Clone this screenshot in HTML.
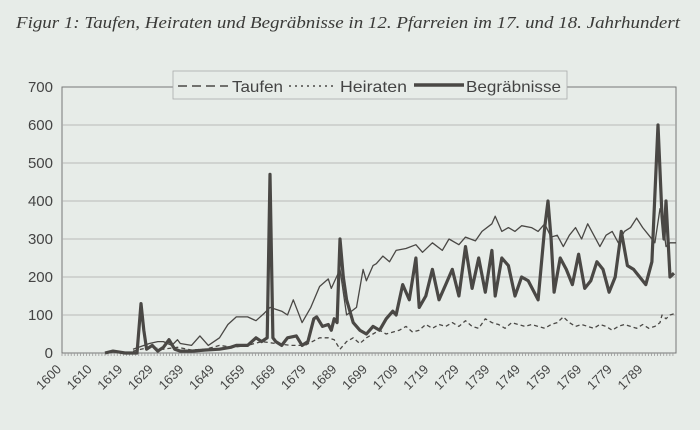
<!DOCTYPE html>
<html><head><meta charset="utf-8"><style>
html,body{margin:0;padding:0;background:#e7ece8;}
body{width:700px;height:430px;overflow:hidden;position:relative;}
</style></head><body>
<svg id="s" width="700" height="430" xmlns="http://www.w3.org/2000/svg" style="position:absolute;left:0;top:0">
<text x="16" y="28" font-family="Liberation Serif,serif" font-style="italic" font-size="17.3" fill="#3a3a38" textLength="664" lengthAdjust="spacingAndGlyphs">Figur 1: Taufen, Heiraten und Begräbnisse in 12. Pfarreien im 17. und 18. Jahrhundert</text>
<rect x="62" y="87" width="614" height="266" fill="none" stroke="#777" stroke-width="1"/>
<g id="grid" stroke="#aaa" stroke-width="0.8"></g>
<g id="ylab" font-family="Liberation Sans,sans-serif" font-size="15" fill="#444" text-anchor="end"></g>
<g id="xlab" font-family="Liberation Sans,sans-serif" font-size="13" fill="#444" text-anchor="end"></g>
<g id="lines" fill="none" stroke="#4a4845" stroke-linejoin="round"></g>
<rect x="173" y="71" width="394" height="28" fill="#e7ece8" stroke="#aaa" stroke-width="0.8"/>
<line x1="178" y1="86" x2="228" y2="86" stroke="#4a4845" stroke-width="1.5" stroke-dasharray="9,5"/>
<text x="232" y="92" font-family="Liberation Sans,sans-serif" font-size="16" fill="#444" textLength="51" lengthAdjust="spacingAndGlyphs">Taufen</text>
<line x1="289" y1="86" x2="334" y2="86" stroke="#4a4845" stroke-width="1.5" stroke-dasharray="2,4"/>
<text x="340" y="92" font-family="Liberation Sans,sans-serif" font-size="16" fill="#444" textLength="67" lengthAdjust="spacingAndGlyphs">Heiraten</text>
<line x1="414" y1="85" x2="464" y2="85" stroke="#4a4845" stroke-width="3.5"/>
<text x="466" y="92" font-family="Liberation Sans,sans-serif" font-size="16" fill="#444" textLength="95" lengthAdjust="spacingAndGlyphs">Begräbnisse</text>
</svg>
<script>
var NS="http://www.w3.org/2000/svg";
function el(p,t,a,txt){var e=document.createElementNS(NS,t);for(var k in a)e.setAttribute(k,a[k]);if(txt)e.textContent=txt;document.getElementById(p).appendChild(e);}
var A=[[1600,62],[1613,105],[1622,141],[1668,270],[1692,340],[1755,548],[1791,658],[1800,676]];
function X(y){for(var i=1;i<A.length;i++){if(y<=A[i][0]||i==A.length-1){var a=A[i-1],b=A[i];return a[1]+(y-a[0])*(b[1]-a[1])/(b[0]-a[0]);}}}
function Y(v){return 353-v*0.38;}
for(var v=0;v<=700;v+=100){if(v>0&&v<700)el("grid","line",{x1:62,x2:676,y1:Y(v),y2:Y(v)});el("ylab","text",{x:53,y:Y(v)+5},""+v);}
var yrs=[1600,1610,1619,1629,1639,1649,1659,1669,1679,1689,1699,1709,1719,1729,1739,1749,1759,1769,1779,1789];
yrs.forEach(function(y,i){var x=62+i*30.6;el("xlab","text",{x:x,y:370,transform:"rotate(-45 "+x+" 370)"},""+y);});
for(var x=62;x<=676;x+=3.07)el("grid","line",{x1:x,x2:x,y1:353,y2:356,stroke:"#999"});
function path(pts,a){var d="";for(var i=0;i<pts.length;i+=2)d+=(i?"L":"M")+X(pts[i]).toFixed(1)+" "+Y(pts[i+1]).toFixed(1);a.d=d;el("lines","path",a);}
var T=[1620,10,1625,25,1628,30,1630,30,1633,20,1635,35,1636,25,1640,20,1643,45,1646,20,1650,40,1653,75,1656,95,1660,95,1663,85,1666,105,1668,120,1672,110,1674,100,1676,140,1679,80,1682,120,1685,175,1688,195,1689,170,1692,220,1694,100,1697,120,1699,220,1700,190,1702,230,1703,235,1705,255,1707,240,1709,270,1712,275,1715,285,1717,265,1720,290,1723,270,1725,300,1728,285,1730,305,1733,295,1735,320,1738,340,1739,360,1741,320,1743,330,1745,320,1747,335,1750,330,1752,320,1754,340,1756,305,1758,310,1760,280,1762,310,1764,330,1766,300,1768,340,1770,310,1772,280,1774,310,1776,320,1778,290,1780,320,1782,330,1784,355,1786,330,1788,310,1790,290,1792,380,1793,360,1795,280,1797,290,1800,290];
var B=[1613,0,1615,5,1618,0,1621,0,1622,130,1623,60,1624,10,1626,20,1628,5,1630,15,1632,35,1634,10,1636,5,1640,5,1645,8,1650,10,1654,15,1656,20,1660,20,1663,40,1665,30,1667,40,1668,470,1669,40,1670,30,1672,20,1674,40,1677,45,1679,20,1681,30,1683,90,1684,95,1686,70,1688,75,1689,60,1690,90,1691,80,1692,300,1693,200,1694,140,1696,80,1698,60,1700,50,1702,70,1704,60,1706,90,1708,110,1709,100,1711,180,1713,140,1715,250,1716,120,1718,150,1720,220,1722,140,1724,180,1726,220,1728,150,1730,280,1732,170,1734,250,1736,160,1738,270,1739,150,1741,250,1743,230,1745,150,1747,200,1749,190,1752,140,1754,330,1755,400,1756,300,1757,160,1759,250,1761,220,1763,180,1765,260,1767,170,1769,190,1771,240,1773,220,1775,160,1777,200,1779,320,1781,230,1783,220,1785,200,1787,180,1789,240,1791,600,1793,360,1794,300,1795,400,1797,200,1799,210];
var H=[1620,5,1625,15,1630,10,1635,15,1640,8,1645,10,1650,20,1655,15,1660,20,1665,30,1670,25,1675,20,1680,20,1685,40,1688,40,1690,35,1692,10,1694,30,1696,40,1698,25,1700,40,1702,50,1704,60,1706,50,1708,55,1710,60,1712,70,1714,55,1716,60,1718,75,1720,65,1722,75,1724,70,1726,80,1728,70,1730,85,1732,70,1734,65,1736,90,1738,80,1740,75,1742,65,1744,80,1746,75,1748,70,1750,75,1752,70,1754,65,1756,75,1758,80,1760,95,1762,80,1764,70,1766,75,1768,70,1770,65,1772,75,1774,70,1776,60,1778,70,1780,75,1782,70,1784,65,1786,75,1788,65,1790,70,1792,80,1793,100,1795,90,1797,100,1800,105];
path(T,{"stroke-width":1.3});
path(H,{"stroke-width":1.3,"stroke-dasharray":"4,3"});
path(B,{"stroke-width":3.2});
</script>
</body></html>
